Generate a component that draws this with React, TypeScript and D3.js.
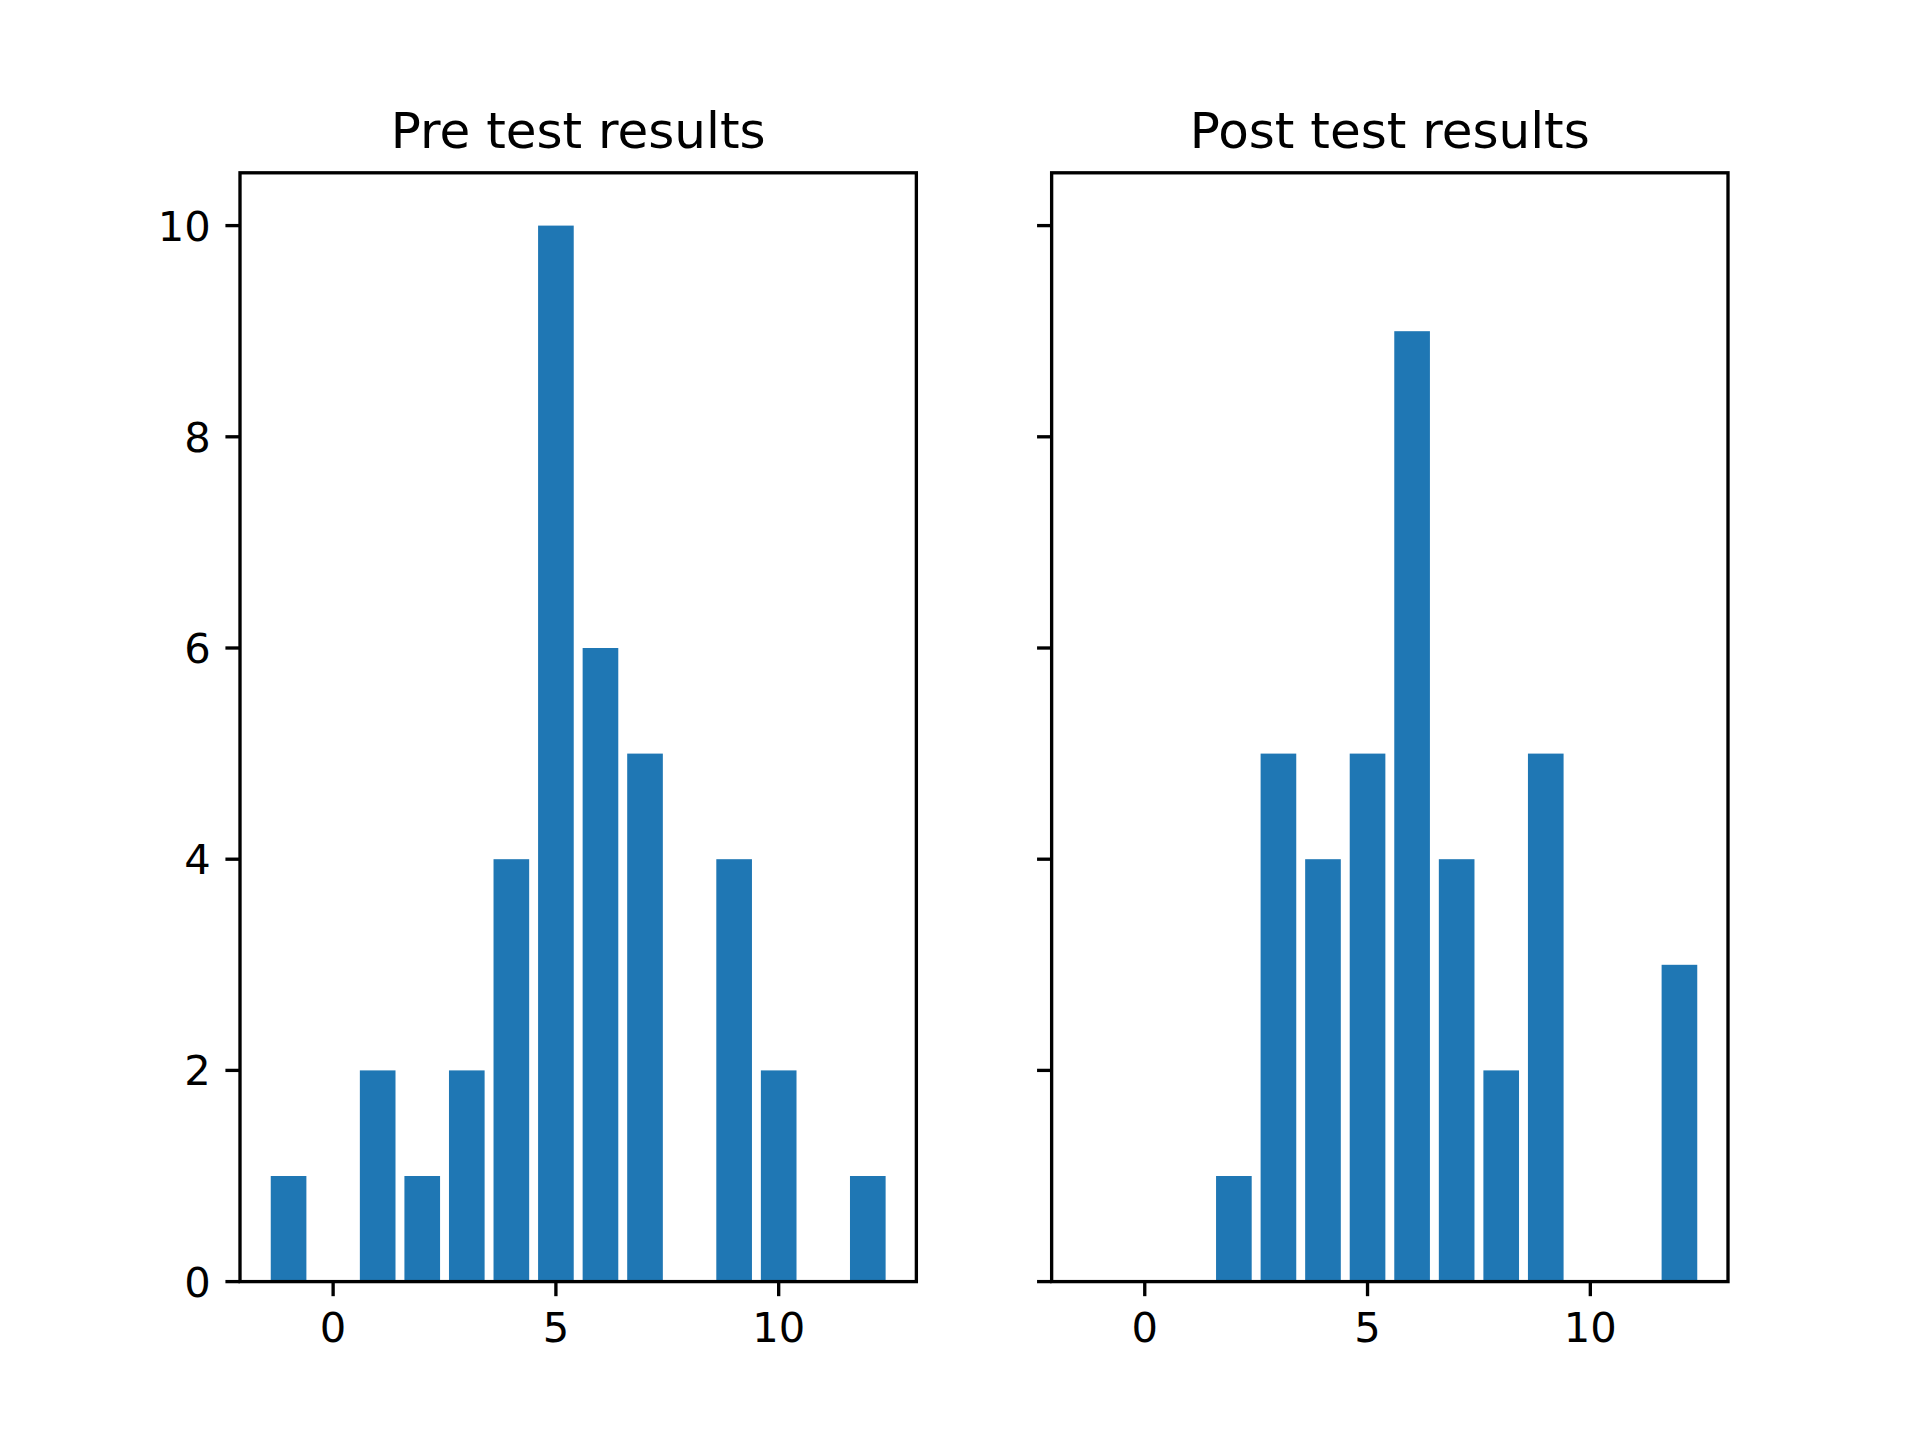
import React from "react";
import * as d3 from "d3";

const categories = [-1, 0, 1, 2, 3, 4, 5, 6, 7, 8, 9, 10, 11, 12];
const preValues = [1, 0, 2, 1, 2, 4, 10, 6, 5, 0, 4, 2, 0, 1];
const postValues = [0, 0, 0, 1, 5, 4, 5, 9, 4, 2, 5, 0, 0, 3];
const xTicks = [0, 5, 10];
const yTicks = [0, 2, 4, 6, 8, 10];
const titles = ["Pre test results", "Post test results"];

const W = 1920;
const H = 1440;
const DPI = 300 / 72;
const BAR_W = 0.8;
const COLOR = "#1f77b4";
const FONT = "DejaVu Sans, sans-serif";

const figLeft = 0.125 * W;
const figRight = 0.9 * W;
const top = (1 - 0.88) * H;
const bottom = (1 - 0.11) * H;
const wspace = 0.2;
const axW = (figRight - figLeft) / (2 + wspace);
const gap = axW * wspace;

const xmin = categories[0] - BAR_W / 2;
const xmax = categories[categories.length - 1] + BAR_W / 2;
const xpad = (xmax - xmin) * 0.05;
const ymaxData = Math.max(...preValues, ...postValues);

const tickLen = 3.5 * DPI;
const tickPad = 3.5 * DPI;
const lw = 0.8 * DPI;
const tickFont = 10 * DPI;
const titleFont = 12 * DPI;

function Panel({ index, values, showYLabels }: { index: number; values: number[]; showYLabels: boolean }) {
  const x0 = figLeft + index * (axW + gap);
  const x = d3.scaleLinear().domain([xmin - xpad, xmax + xpad]).range([x0, x0 + axW]);
  const y = d3.scaleLinear().domain([0, ymaxData * 1.05]).range([bottom, top]);
  const bw = x(BAR_W) - x(0);
  return (
    <g>
      {categories.map((c, i) =>
        values[i] > 0 ? (
          <rect
            key={c}
            x={x(c) - bw / 2}
            y={y(values[i])}
            width={bw}
            height={y(0) - y(values[i])}
            fill={COLOR}
          />
        ) : null
      )}
      <rect x={x0} y={top} width={axW} height={bottom - top} fill="none" stroke="#000" strokeWidth={lw} />
      {xTicks.map((t) => (
        <g key={"x" + t}>
          <line x1={x(t)} x2={x(t)} y1={bottom} y2={bottom + tickLen} stroke="#000" strokeWidth={lw} />
          <text
            x={x(t)}
            y={bottom + tickLen + tickPad}
            dy="0.76em"
            textAnchor="middle"
            fontFamily={FONT}
            fontSize={tickFont}
            fill="#000"
          >
            {t}
          </text>
        </g>
      ))}
      {yTicks.map((t) => (
        <g key={"y" + t}>
          <line x1={x0 - tickLen} x2={x0} y1={y(t)} y2={y(t)} stroke="#000" strokeWidth={lw} />
          {showYLabels && (
            <text
              x={x0 - tickLen - tickPad}
              y={y(t)}
              dy="0.36em"
              textAnchor="end"
              fontFamily={FONT}
              fontSize={tickFont}
              fill="#000"
            >
              {t}
            </text>
          )}
        </g>
      ))}
      <text
        x={x0 + axW / 2}
        y={top - 6 * DPI}
        textAnchor="middle"
        fontFamily={FONT}
        fontSize={titleFont}
        fill="#000"
      >
        {titles[index]}
      </text>
    </g>
  );
}

export default function App() {
  return (
    <svg
      width={W}
      height={H}
      viewBox={`0 0 ${W} ${H}`}
      style={{ position: "absolute", left: 0, top: 0, background: "#fff" }}
    >
      <rect width={W} height={H} fill="#fff" />
      <Panel index={0} values={preValues} showYLabels={true} />
      <Panel index={1} values={postValues} showYLabels={false} />
    </svg>
  );
}
